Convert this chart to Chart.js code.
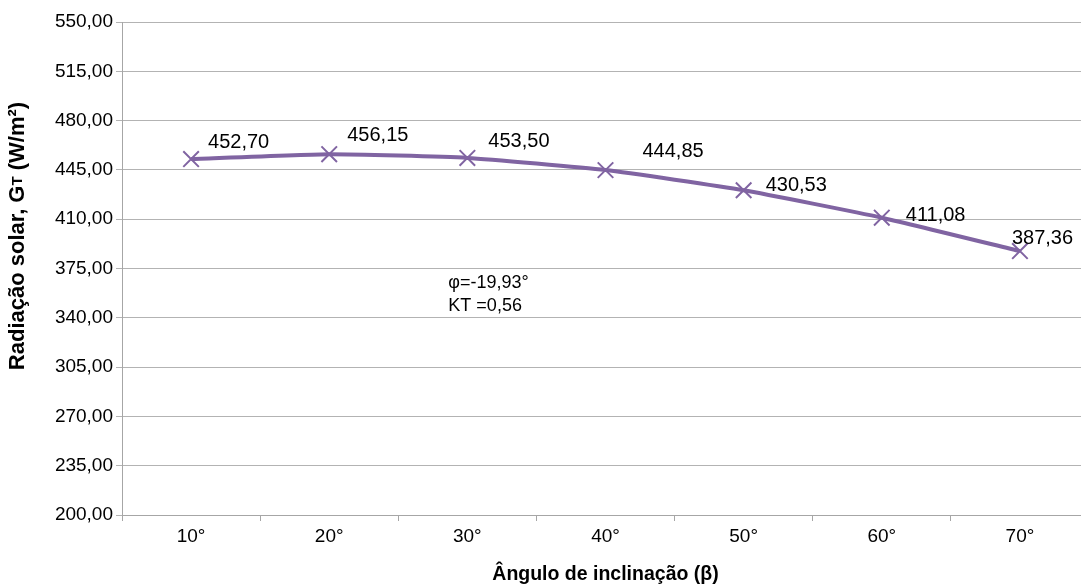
<!DOCTYPE html>
<html>
<head>
<meta charset="utf-8">
<script src="https://cdn.jsdelivr.net/npm/chart.js@4"></script>
<style>
  html, body { margin: 0; padding: 0; background: #fff; overflow: hidden; }
  #wrap { position: absolute; left: 0; top: 0; width: 1102px; height: 586px; }
</style>
</head>
<body>
<div id="wrap"><canvas id="myChart"></canvas></div>
<script>
// tilt angles and mean radiation on the tilted plane
const angles = ['10°', '20°', '30°', '40°', '50°', '60°', '70°'];
const radiation = [452.70, 456.15, 453.50, 444.85, 430.53, 411.08, 387.36];
const yMin = 200, yMax = 550, yStep = 35;
const noteLines = ['φ=-19,93°', 'KT =0,56'];

// where each value label sits relative to its point (dx, dy in px)
const labelOffsets = [[17, -17], [18, -19], [21, -16], [37, -19], [22, -5], [24, -2], [-8, -13]];

const fmt = (v) => v.toFixed(2).replace('.', ',');
const FONT = 'Liberation Sans, Arial, sans-serif';

const valueLabels = {
  id: 'valueLabels',
  afterDatasetsDraw(chart) {
    const ctx = chart.ctx;
    const meta = chart.getDatasetMeta(0);
    ctx.save();
    ctx.font = '20px ' + FONT;
    ctx.fillStyle = '#000';
    ctx.textAlign = 'left';
    ctx.textBaseline = 'middle';
    meta.data.forEach((pt, i) => {
      const off = labelOffsets[i];
      ctx.fillText(fmt(radiation[i]), pt.x + off[0], pt.y + off[1]);
    });
    // note in the middle of the plot
    const x = chart.scales.x.getPixelForValue(2) - 19;
    const y = chart.scales.y.getPixelForValue(365);
    ctx.font = '18px ' + FONT;
    ctx.fillText(noteLines[0], x, y);
    ctx.fillText(noteLines[1], x, y + 23);
    ctx.restore();
  }
};

const yTitle = {
  id: 'yTitle',
  afterDraw(chart) {
    const ctx = chart.ctx;
    const parts = [['Radiação solar, G', 'bold 22px '], ['T', 'bold 15px '], [' (W/m²)', 'bold 22px ']];
    ctx.save();
    ctx.translate(18, 236);
    ctx.rotate(-Math.PI / 2);
    ctx.fillStyle = '#000';
    ctx.textBaseline = 'middle';
    let total = 0;
    parts.forEach(p => { ctx.font = p[1] + FONT; total += ctx.measureText(p[0]).width; });
    let x = -total / 2;
    parts.forEach(p => {
      ctx.font = p[1] + FONT;
      ctx.fillText(p[0], x, 0);
      x += ctx.measureText(p[0]).width;
    });
    ctx.restore();
  }
};

new Chart(document.getElementById('myChart'), {
  type: 'line',
  data: {
    labels: angles,
    datasets: [{
      data: radiation,
      borderColor: '#8064A2',
      backgroundColor: '#8064A2',
      borderWidth: 4,
      tension: 0.15,
      pointStyle: 'crossRot',
      pointRadius: 11,
      pointBorderWidth: 2,
      pointBorderColor: '#8064A2'
    }]
  },
  options: {
    responsive: true,
    maintainAspectRatio: false,
    animation: false,
    layout: { padding: { top: 22, right: 1, left: 0, bottom: 0 } },
    plugins: { legend: { display: false }, tooltip: { enabled: false } },
    scales: {
      x: {
        offset: true,
        grid: { offset: true, drawOnChartArea: false, tickLength: 6, color: '#a6a6a6' },
        border: { color: '#a6a6a6' },
        ticks: { color: '#000', font: { family: FONT, size: 19 }, padding: 4 },
        title: { display: true, text: 'Ângulo de inclinação (β)', color: '#000',
                 font: { family: FONT, size: 19.5, weight: 'bold' }, padding: { top: 0, bottom: 0 } },
        afterFit: (s) => { s.height = 71; }
      },
      y: {
        min: yMin, max: yMax,
        grid: { color: '#b3b3b3', tickLength: 6 },
        border: { color: '#a6a6a6' },
        ticks: { stepSize: yStep, color: '#000', font: { family: FONT, size: 19 }, padding: 3,
                 callback: (v) => fmt(v) },
        afterFit: (s) => { s.width = 122; }
      }
    }
  },
  plugins: [valueLabels, yTitle]
});
</script>
</body>
</html>
